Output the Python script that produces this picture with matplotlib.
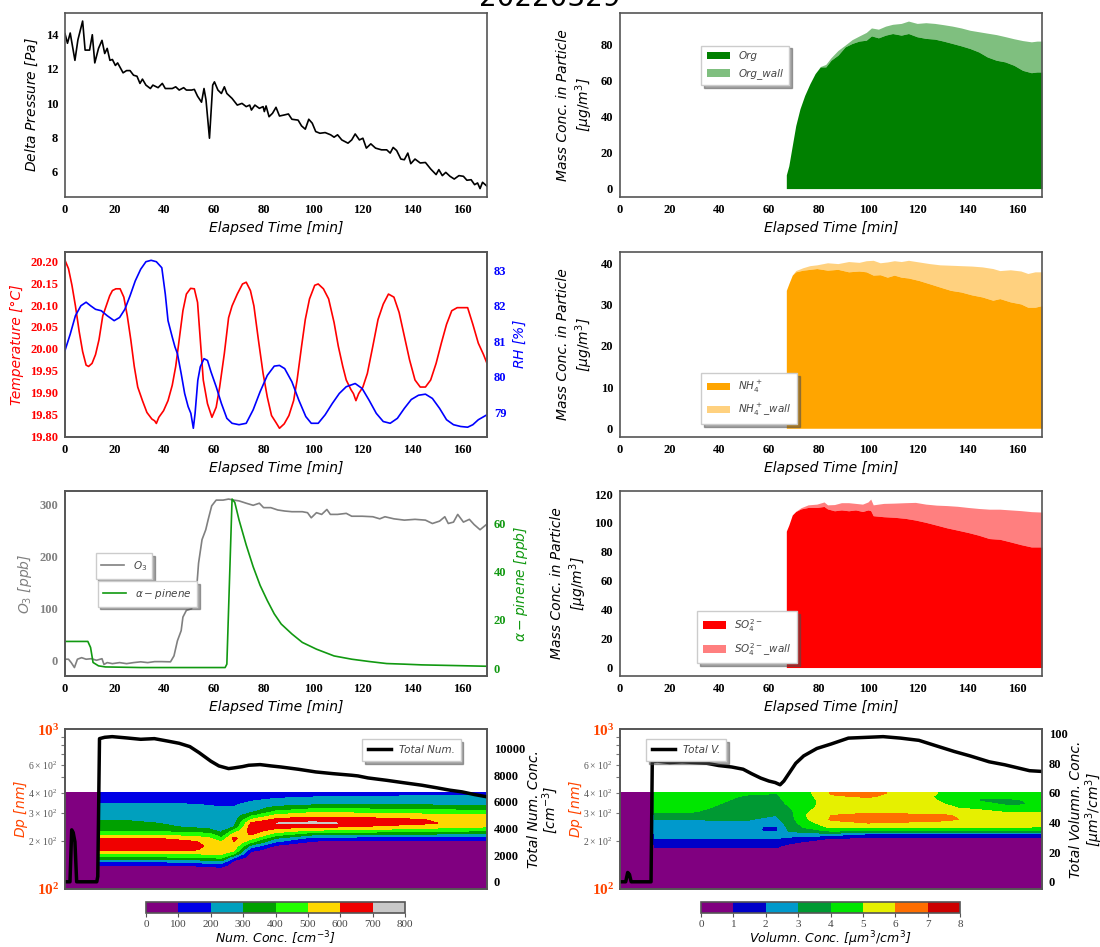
import numpy as np
import matplotlib
matplotlib.use('Agg')
import matplotlib.pyplot as plt
from matplotlib.colors import ListedColormap, BoundaryNorm
from matplotlib.ticker import FormatStrFormatter

plt.rcParams['font.family'] = 'Liberation Serif'
plt.rcParams['axes.edgecolor'] = '#555555'
plt.rcParams['axes.linewidth'] = 1.2

# ---- delta pressure ----
dp_t = [0, 1, 2.1, 4, 5.2, 7.1, 8.1, 9.9, 11, 12, 13.5, 14.9, 16, 17, 18.1, 19.1, 20.3, 21.2, 23.4, 24.8,
        26.2, 27.6, 29, 30.2, 31.2, 32.6, 34.4, 35.4, 37.5, 39.2, 40.4, 43.2, 44.6, 46, 47.8, 48.9, 51, 52.1,
        53.4, 55, 56, 56.8, 58.2, 59.5, 60.2, 61.6, 63, 64.2, 65.2, 67.3, 69.4, 71.3, 73, 74.4, 75.1, 76.5,
        78.3, 79.8, 80.3, 81, 82.2, 83.6, 85, 86.4, 88.3, 90, 91.4, 93.9, 95.3, 96.8, 98.2, 99.6, 101, 102.7,
        104.8, 107, 108.4, 109.8, 111.5, 114, 115.5, 116.9, 118.6, 120, 121.4, 123.2, 125.1, 127.5, 129.6,
        131, 132.2, 133.6, 135.3, 136.7, 138.1, 139.3, 141, 143.1, 145.2, 147.3, 149.5, 150.6, 152, 153.4,
        155.1, 156.8, 158.7, 160.5, 161.9, 163.6, 165, 166.2, 167.2, 168.2, 170]
dp_pa = [14.06, 13.5, 14.1, 12.5, 13.7, 14.8, 13.1, 13.1, 14.0, 12.35, 13.2, 13.67, 12.9, 13.2, 12.5, 12.55,
         12.2, 12.35, 11.77, 11.9, 11.9, 11.63, 11.57, 11.15, 11.4, 11.05, 10.85, 11.05, 10.9, 11.15, 10.85,
         10.85, 10.95, 10.76, 10.9, 10.76, 10.76, 10.8, 10.4, 10.05, 10.85, 10.18, 7.94, 11.05, 11.24, 10.76,
         10.56, 10.95, 10.56, 10.27, 9.88, 9.98, 9.79, 9.88, 9.59, 9.88, 9.69, 9.79, 9.5, 9.83, 9.2, 9.4,
         9.75, 9.24, 9.3, 9.36, 9.05, 9.0, 8.66, 8.47, 9.05, 8.82, 8.33, 8.23, 8.27, 8.14, 8.0, 8.14, 7.84,
         7.65, 7.84, 8.19, 7.84, 7.94, 7.36, 7.61, 7.36, 7.26, 7.26, 7.07, 7.4, 7.22, 6.72, 6.68, 7.07, 6.45,
         6.72, 6.49, 6.52, 6.14, 5.81, 6.1, 5.75, 5.94, 5.71, 5.55, 5.75, 5.71, 5.48, 5.51, 5.22, 5.32, 4.99,
         5.36, 5.13]

# ---- temperature / RH ----
temp_t = [0, 1.4, 2.8, 4.2, 5.7, 7.1, 8.5, 9.5, 10.9, 12.3, 13.7, 15.2, 16.6, 18, 19.1, 20.5, 22.2, 23.7,
          25.1, 26.5, 27.9, 29.3, 31.2, 33, 35, 36.1, 36.8, 37.8, 39.7, 41.5, 43.2, 44.6, 46, 47.5, 48.9,
          50.6, 52.1, 53.4, 54.5, 55.7, 57.4, 59.2, 60.9, 62.3, 64.2, 65.9, 67.3, 69.4, 71.5, 73, 74.7, 76.1,
          77.9, 79.8, 81.5, 83.2, 85, 86.4, 88.3, 90.2, 92.1, 93.5, 95.3, 96.8, 98.5, 100.6, 102, 104.1,
          106.2, 108.4, 110.1, 111.9, 113.3, 115.2, 116.2, 117.2, 118.3, 120, 121.8, 124, 126.1, 128.2,
          130.3, 132.5, 134.6, 136.7, 138.8, 141, 143.1, 145.2, 147.3, 149.5, 151.6, 153.7, 155.8, 158,
          160.1, 162.2, 164.3, 166.5, 168.6, 170]
temp_c = [20.202, 20.183, 20.145, 20.098, 20.04, 19.994, 19.963, 19.96, 19.967, 19.987, 20.021, 20.075,
          20.098, 20.121, 20.133, 20.137, 20.137, 20.118, 20.075, 20.021, 19.96, 19.913, 19.882, 19.855,
          19.84, 19.836, 19.83, 19.844, 19.859, 19.882, 19.917, 19.96, 20.021, 20.087, 20.125, 20.138,
          20.137, 20.106, 20.021, 19.929, 19.875, 19.844, 19.867, 19.913, 19.99, 20.071, 20.098, 20.125,
          20.148, 20.152, 20.133, 20.098, 20.021, 19.944, 19.89, 19.848, 19.832, 19.819, 19.829, 19.848,
          19.882, 19.929, 20.006, 20.067, 20.114, 20.145, 20.148, 20.137, 20.114, 20.06, 20.006, 19.96,
          19.929, 19.907, 19.898, 19.882, 19.898, 19.913, 19.944, 20.006, 20.067, 20.102, 20.125, 20.118,
          20.083, 20.029, 19.975, 19.929, 19.913, 19.913, 19.929, 19.967, 20.013, 20.056, 20.087, 20.094,
          20.094, 20.094, 20.056, 20.013, 19.987, 19.967]
rh_t = [0, 2.1, 4.2, 6.4, 8.5, 10.3, 12.3, 14.6, 17, 19.8, 22, 24.1, 26.2, 28.3, 30.5, 32.6, 34.7, 36.8,
        39, 40.4, 41.5, 43.2, 44.3, 45.3, 46.8, 48.2, 49.6, 50.7, 51.7, 52.4, 53.5, 54.5, 56, 57.4, 58.8,
        60.9, 63, 65.2, 67.3, 70.1, 73, 75.8, 78.6, 81.5, 84.3, 86.4, 88.5, 91.4, 94.2, 97, 99.2, 102,
        104.8, 107.7, 110.5, 113.3, 116.9, 119.7, 122.5, 125.4, 128.2, 131, 133.9, 136.7, 139.5, 142.4,
        145.2, 148, 150.9, 153.7, 156.5, 159.4, 162.2, 164.3, 166.5, 170]
rh_pct = [80.74, 81.2, 81.72, 82.0, 82.1, 82.0, 81.9, 81.86, 81.72, 81.58, 81.67, 81.9, 82.28, 82.7, 83.03,
          83.24, 83.28, 83.24, 83.07, 82.33, 81.58, 81.12, 80.84, 80.65, 80.09, 79.53, 79.16, 78.97, 78.55,
          78.97, 79.9, 80.28, 80.51, 80.46, 80.14, 79.72, 79.25, 78.83, 78.69, 78.65, 78.69, 79.07, 79.58,
          80.04, 80.3, 80.32, 80.23, 79.86, 79.34, 78.88, 78.69, 78.69, 78.93, 79.25, 79.53, 79.72, 79.81,
          79.67, 79.34, 78.97, 78.74, 78.69, 78.83, 79.11, 79.36, 79.48, 79.51, 79.39, 79.11, 78.79, 78.65,
          78.6, 78.58, 78.65, 78.79, 78.93]

# ---- O3 / alpha-pinene ----
o3_t = [0, 1.4, 2.5, 3.8, 5, 6.7, 8.5, 10.6, 12.7, 14.9, 15.7, 17, 19.1, 22, 24.8, 27.6, 30.5, 33.3, 36.1,
        39, 42.5, 43.9, 45.3, 46.8, 47.5, 48.9, 51, 51.7, 53.1, 53.8, 55.2, 56.7, 57.7, 59.1, 60.9, 63.7,
        65.9, 68, 70.1, 73, 75.8, 78.3, 80, 82.9, 85.7, 88.5, 91.4, 95.6, 97.7, 99.2, 101.3, 103.4, 105.5,
        106.9, 109.8, 113.3, 115.5, 119.7, 124, 126.8, 128.9, 132.5, 136.7, 141, 145.2, 148, 150.9, 153,
        154.4, 156.5, 158.2, 160.5, 162.9, 164.8, 167.2, 170]
o3_ppb = [2, 2, -4.5, -14, 2, 5, 2, 3, 0, 3, -8, -4.5, -6.5, -4.5, -6.5, -4.5, -3, -4.5, -2.6, -2.6, -3,
          8.4, 37.6, 57, 83, 96, 99, 141, 142.5, 186.6, 232, 251, 271, 297, 308, 308, 310, 308, 306.5, 302,
          298, 302, 293.5, 293.5, 289, 287, 285.7, 285.7, 283.8, 274, 283.8, 280.5, 290, 280.5, 280.5,
          282.5, 277, 277, 276, 272, 276, 272, 269.5, 271, 269.5, 263, 267.6, 276, 263, 265.7, 280.5, 265.7,
          271, 261, 251, 262]
ap_t = [0, 9.2, 10.3, 11.3, 13.5, 16.3, 30.5, 44.6, 64.5, 65.2, 67.3, 68.4, 70.1, 73, 75.8, 78.6, 81.5,
        84.3, 87.1, 91.4, 95.6, 101.3, 108.4, 115.5, 122.5, 129.6, 136.7, 143.8, 158, 170]
ap_ppb = [11.1, 11.1, 8.6, 2.4, 1.0, 0.55, 0.3, 0.3, 0.3, 1.7, 70, 68.6, 61.4, 51, 42, 34.3, 28, 22.5,
          18.3, 14.2, 10.7, 7.9, 5.1, 3.75, 2.8, 1.95, 1.7, 1.4, 1.1, 0.83]

# ---- aerosol mass (particle, and particle + wall) ----
org_t = [67, 68, 69.4, 70.8, 72.5, 74.4, 76.5, 78.6, 80.7, 82.9, 85, 87.8, 90.7, 93.5, 96.3, 99.2, 101.3,
         104.1, 107, 109.8, 113.3, 116.2, 119.7, 123.2, 126.8, 130.3, 133.9, 137.4, 141, 144.5, 148, 151.6,
         155.1, 158.7, 162.2, 165.7, 168, 170]
org = [7.6, 12.6, 23.8, 34.9, 44.2, 51.6, 58.1, 63.7, 67.4, 67.4, 71.1, 73.9, 78.5, 80.4, 81.7, 82.2, 84.6,
       83.5, 85, 85.9, 85, 85.9, 84.1, 83.2, 82.8, 81.7, 80.4, 79.1, 77.6, 75.7, 72.9, 71.1, 70.2, 68.3,
       65.5, 64.2, 64.6, 64.6]
org_wall = [7.6, 12.6, 23.8, 34.9, 44.2, 51.6, 58.1, 63.7, 67.6, 68.8, 72.5, 76.5, 79.5, 82.5, 84.5, 86.5,
            89.0, 88.3, 90, 91, 91.5, 92.8, 91.5, 91.9, 91.5, 90.8, 90, 89, 87.7, 86.9, 86.1, 85.3, 84.2, 83,
            82, 81.3, 81.7, 81.7]

nh4_t = [67, 68, 69.4, 70.8, 73.7, 76.5, 79.3, 83.6, 87.8, 92.1, 96.3, 99.2, 102, 104.8, 107.7, 110.5,
         113.3, 116.2, 120.4, 124.7, 128.9, 133.2, 137.4, 141.7, 145.9, 150.2, 153, 157.25, 161.5, 164.3,
         167.2, 170]
nh4 = [33.5, 35.1, 37.2, 38, 38.4, 38.6, 38.8, 38.4, 38.6, 38, 38.2, 38, 37.2, 37.3, 36.7, 37.2, 36.7,
       36.5, 35.9, 35.1, 34.3, 33.5, 33.1, 32.4, 31.9, 31.1, 31.5, 30.7, 30.2, 29.4, 29.4, 29.8]
nh4_wall = [33.5, 35.1, 37.2, 38.3, 39, 39.5, 39.7, 40.2, 40, 40.5, 40.3, 40.7, 40.8, 40.2, 40.4, 40.7,
            40.5, 40.8, 40.4, 40, 39.7, 39.6, 39.5, 39.4, 39.2, 38.8, 38.3, 38.5, 38.2, 37.6, 38, 38]

so4_t = [67, 68, 69.4, 70.8, 72.9, 75.8, 79.3, 82.2, 83.6, 86.4, 89.2, 92.1, 94.9, 97.7, 99.9, 101, 102,
         106.2, 110.5, 114.8, 119, 123.2, 127.5, 131.7, 136, 140.2, 144.5, 148.75, 153, 157.25, 161.5,
         165.7, 170]
so4 = [94.3, 98.5, 105.5, 107.9, 109.7, 110.7, 110.7, 111.4, 109.7, 108.4, 109, 108.4, 109, 107.9, 109,
       108.5, 105, 104.3, 103.9, 103.2, 102, 100.4, 98.5, 96.6, 95, 93.4, 91.5, 89.2, 88.7, 86.9, 85, 83.4,
       83.4]
so4_wall = [94.3, 98.5, 105.5, 108, 110.5, 112.5, 113, 114.5, 112.5, 112.7, 114, 114, 113.5, 113, 114.5,
            116.5, 112.5, 113.5, 113.7, 114, 114.2, 113, 112.3, 112, 111.5, 110.7, 110, 109.5, 109.5, 109,
            108.5, 107.8, 107.5]

# ---- size distributions (time nodes x diameter nodes) ----
psd_t = [0, 13.2, 13.8, 25, 40, 52, 58, 63, 68, 75, 85, 100, 115, 130, 145, 158, 170]
psd_dp = [100, 135, 142, 150, 158, 167, 176, 186, 197, 208, 220, 232, 245, 259, 273, 289, 305, 322, 340,
          360, 380, 400]
num_conc = [
    [0] * 22,
    [0] * 22,
    [0, 40, 120, 230, 390, 500, 610, 660, 655, 590, 480, 380, 330, 320, 290, 260, 240, 220, 205, 180, 150, 120],
    [0, 40, 120, 230, 390, 500, 610, 665, 655, 595, 480, 380, 330, 320, 290, 260, 240, 220, 205, 180, 150, 120],
    [0, 40, 120, 230, 390, 500, 610, 655, 650, 590, 470, 370, 310, 295, 280, 260, 240, 220, 205, 180, 150, 120],
    [0, 40, 130, 250, 400, 510, 610, 640, 615, 540, 450, 330, 290, 270, 260, 250, 230, 215, 200, 175, 150, 120],
    [0, 60, 160, 280, 420, 520, 570, 580, 560, 510, 440, 320, 280, 260, 250, 240, 225, 210, 195, 170, 140, 110],
    [0, 70, 170, 300, 430, 520, 560, 550, 500, 420, 320, 280, 265, 255, 245, 235, 220, 205, 185, 165, 140, 110],
    [0, 20, 40, 90, 220, 430, 530, 570, 600, 620, 540, 420, 300, 265, 250, 240, 230, 210, 185, 165, 140, 110],
    [0, 0, 0, 10, 30, 60, 130, 260, 420, 530, 610, 650, 660, 610, 500, 380, 280, 250, 230, 190, 150, 110],
    [0, 0, 0, 0, 10, 30, 50, 80, 200, 300, 450, 550, 640, 700, 620, 520, 420, 330, 260, 220, 180, 140],
    [0, 0, 0, 0, 0, 10, 30, 50, 80, 160, 320, 480, 610, 720, 660, 560, 480, 380, 280, 230, 195, 150],
    [0, 0, 0, 0, 0, 10, 30, 50, 70, 150, 310, 470, 600, 690, 650, 560, 470, 380, 290, 235, 200, 160],
    [0, 0, 0, 0, 0, 10, 30, 50, 70, 150, 300, 450, 570, 650, 620, 540, 460, 370, 290, 240, 205, 165],
    [0, 0, 0, 0, 0, 10, 30, 50, 70, 150, 290, 430, 540, 620, 600, 530, 450, 360, 285, 240, 205, 170],
    [0, 0, 0, 0, 0, 10, 30, 50, 70, 140, 280, 420, 520, 570, 570, 520, 440, 350, 280, 240, 210, 180],
    [0, 0, 0, 0, 0, 10, 30, 50, 70, 140, 270, 400, 500, 560, 560, 510, 430, 340, 270, 230, 200, 180],
]
vol_conc = [
    [0] * 22,
    [0] * 22,
    [0, .1, .2, .3, .5, .7, .9, 1.1, 1.6, 2.1, 2.4, 2.6, 2.7, 2.8, 2.95, 3.5, 4.1, 4.4, 4.5, 4.6, 4.5, 4.4],
    [0, .1, .2, .3, .5, .7, .9, 1.1, 1.6, 2.1, 2.4, 2.6, 2.7, 2.8, 2.95, 3.6, 4.2, 4.3, 4.3, 4.4, 4.4, 4.3],
    [0, .1, .2, .3, .5, .7, .9, 1.1, 1.7, 2.05, 2.4, 2.6, 2.7, 2.85, 3.1, 3.4, 3.7, 3.9, 4.0, 4.1, 4.2, 4.2],
    [0, .1, .2, .3, .5, .7, .9, 1.1, 1.7, 2.05, 2.4, 2.6, 2.7, 2.85, 3.05, 3.3, 3.5, 3.7, 3.8, 3.8, 3.9, 4.1],
    [0, .1, .2, .3, .5, .7, .9, 1.1, 1.7, 2.05, 2.2, 1.9, 1.9, 2.4, 2.8, 3.2, 3.4, 3.6, 3.7, 3.8, 3.9, 4.1],
    [0, .1, .2, .3, .5, .7, .9, 1.1, 1.7, 2.05, 2.2, 1.9, 1.9, 2.5, 2.8, 3.0, 3.3, 3.5, 3.7, 3.8, 3.9, 4.0],
    [0, .05, .1, .2, .3, .45, .6, .8, 1.2, 1.8, 2.5, 3.1, 3.3, 3.4, 3.5, 3.6, 3.7, 3.9, 4.1, 4.2, 4.3, 4.4],
    [0, 0, 0, .05, .1, .2, .35, .6, .9, 1.5, 2.6, 3.5, 4.2, 4.6, 4.9, 5.0, 4.9, 4.8, 4.7, 4.6, 4.6, 4.7],
    [0, 0, 0, 0, .05, .1, .2, .4, .7, 1.0, 2.5, 4.2, 5.2, 5.7, 6.1, 6.0, 5.6, 5.4, 5.4, 5.6, 5.9, 6.1],
    [0, 0, 0, 0, .05, .1, .2, .35, .6, .9, 1.7, 4.0, 5.4, 6.0, 6.4, 6.3, 5.8, 5.6, 5.5, 5.7, 6.1, 6.3],
    [0, 0, 0, 0, .05, .1, .2, .35, .6, .9, 1.7, 4.0, 5.3, 5.9, 6.3, 6.2, 5.7, 5.5, 5.4, 5.5, 5.6, 5.7],
    [0, 0, 0, 0, .05, .1, .2, .35, .6, .9, 1.7, 4.0, 5.3, 5.8, 6.15, 6.1, 5.6, 5.2, 5.05, 4.9, 4.8, 4.9],
    [0, 0, 0, 0, .05, .1, .2, .35, .6, .9, 1.7, 3.9, 5.2, 5.6, 5.8, 5.7, 5.3, 4.7, 4.3, 3.9, 4.2, 4.5],
    [0, 0, 0, 0, .05, .1, .2, .35, .6, .9, 1.7, 3.9, 5.1, 5.5, 5.6, 5.4, 4.8, 4.2, 3.8, 3.9, 4.2, 4.4],
    [0, 0, 0, 0, .05, .1, .2, .35, .6, .9, 1.7, 3.8, 5.0, 5.4, 5.5, 5.3, 4.9, 4.5, 4.2, 4.2, 4.3, 4.4],
]

totnum_t = [0, 2.0, 2.7, 3.3, 4.0, 4.7, 12.8, 13.2, 13.9, 16, 19, 25, 30.5, 36, 41.8, 46, 50.3, 54, 58.8,
            62, 65.9, 68, 71.5, 74, 78.6, 83, 87, 94, 101, 108, 115.5, 118, 122, 129.6, 136, 143.8, 150,
            155, 160, 165, 170]
totnum = [0, 0, 3900, 3700, 3000, 0, 0, 400, 10750, 10850, 10900, 10800, 10700, 10750, 10550, 10400,
          10150, 9700, 9050, 8700, 8500, 8550, 8650, 8750, 8800, 8700, 8620, 8450, 8250, 8120, 8000, 7950,
          7800, 7620, 7450, 7250, 7050, 6880, 6750, 6550, 6380]
totvol_t = [0, 2.3, 3.1, 3.8, 4.5, 12.5, 13.0, 15, 20, 25, 30, 35, 39.7, 45, 49.6, 53, 56.7, 60, 62.5,
            64.5, 66, 68, 70.8, 74, 79.3, 85, 92, 99, 106, 113, 120.4, 127, 134.6, 141, 148.75, 155, 160,
            165, 170]
totvol = [0, 0, 6.3, 5, 0, 0, 81, 81.5, 80.5, 81, 80.5, 80, 78.5, 77.5, 76, 73, 70, 68, 67, 65.5, 68, 73,
          80, 85, 90, 93, 97, 97.5, 98, 97, 95.5, 92, 88, 85, 81, 79, 77, 75, 74.5]

num_colors = ['#800080', '#0000e6', '#00a0be', '#00a000', '#22ff00', '#ffd700', '#f00000', '#c8c8c8']
vol_colors = ['#800080', '#0000c8', '#0099cc', '#009933', '#00e600', '#e6f000', '#ff6e00', '#cc0000']

LAB = dict(family='DejaVu Sans', style='italic', weight='normal', size=10)
LEG = dict(family='DejaVu Sans', style='italic', weight='normal', size=7.5)
TICK = 9

fig = plt.figure(figsize=(11, 9.47), dpi=100)
W = 422 / 1100
XL, XR = 65 / 1100, 620 / 1100
rows = [(0.792, 0.1946), (0.5389, 0.1951), (0.2862, 0.1957)]
bold_axes = []


def base(ax):
    ax.set_xlim(0, 170)
    ax.set_xticks(np.arange(0, 161, 20))
    ax.tick_params(length=0, labelsize=TICK, pad=5)
    ax.set_xlabel('Elapsed Time [min]', fontdict=LAB)
    bold_axes.append(ax)


def legend(ax, **kw):
    lg = ax.legend(prop=LEG, shadow=True, fancybox=False, framealpha=1, edgecolor='#cccccc',
                   borderpad=0.55, labelspacing=0.7, handlelength=2.2, **kw)
    for t in lg.get_texts():
        t.set_color('#444444')
    return lg


fig.text(0.5, 1 - 6 / 947, '20220329', ha='center', va='baseline', fontsize=20,
         family='DejaVu Sans', weight='normal')

# row 1 left: delta pressure
ax = fig.add_axes([XL, rows[0][0], W, rows[0][1]])
ax.plot(dp_t, dp_pa, color='black', lw=1.2)
base(ax)
ax.set_ylabel('Delta Pressure [$Pa$]', fontdict=LAB)

# row 2 left: temperature and RH
ax = fig.add_axes([XL, rows[1][0], W, rows[1][1]])
ax.plot(temp_t, temp_c, color='red', lw=1.2)
base(ax)
ax.set_yticks(np.arange(19.80, 20.201, 0.05))
ax.yaxis.set_major_formatter(FormatStrFormatter('%.2f'))
ax.tick_params(axis='y', labelcolor='red')
ax.set_ylabel('Temperature [°C]', fontdict=LAB, color='red')
axb = ax.twinx()
axb.plot(rh_t, rh_pct, color='blue', lw=1.2)
axb.set_xlim(0, 170)
axb.tick_params(length=0, labelsize=TICK, pad=5, labelcolor='blue')
axb.set_ylabel('$RH$ [%]', fontdict=LAB, color='blue')
bold_axes.append(axb)

# row 3 left: O3 and alpha-pinene
ax = fig.add_axes([XL, rows[2][0], W, rows[2][1]])
ax.plot(o3_t, o3_ppb, color='grey', lw=1.2, label='$O_3$')
base(ax)
ax.tick_params(axis='y', labelcolor='grey')
ax.set_ylabel('$O_3$ [$ppb$]', fontdict=LAB, color='grey')
legend(ax, loc='upper left', bbox_to_anchor=(0.06, 0.69))
axb = ax.twinx()
axb.plot(ap_t, ap_ppb, color='#119911', lw=1.2, label=r'$\alpha-pinene$')
axb.set_xlim(0, 170)
axb.tick_params(length=0, labelsize=TICK, pad=5, labelcolor='#119911')
axb.set_ylabel(r'$\alpha-pinene$ [$ppb$]', fontdict=LAB, color='#119911')
legend(axb, loc='upper left', bbox_to_anchor=(0.065, 0.54))
bold_axes.append(axb)

# right column: mass concentrations
mass = [(org_t, org, org_wall, 'green', ['Org', 'Org_wall'], dict(loc='upper left', bbox_to_anchor=(0.18, 0.85))),
        (nh4_t, nh4, nh4_wall, 'orange', ['$NH_4^+$', '$NH_4^+$_wall'], dict(loc='lower left', bbox_to_anchor=(0.18, 0.04))),
        (so4_t, so4, so4_wall, 'red', ['$SO_4^{2-}$', '$SO_4^{2-}$_wall'], dict(loc='lower left', bbox_to_anchor=(0.17, 0.04)))]
for (t, part, tot, col, labs, lkw), (b, h) in zip(mass, rows):
    ax = fig.add_axes([XR, b, W, h])
    ax.fill_between(t, 0, part, color=col, lw=0, label=labs[0])
    ax.fill_between(t, part, tot, color=col, alpha=0.5, lw=0, label=labs[1])
    base(ax)
    ax.set_ylabel('Mass Conc. in Particle\n[$\\mu g/m^3$]', fontdict=LAB)
    legend(ax, **lkw)

# bottom row: size distributions
H4 = 0.1686
B4 = 0.0612
panels = [(XL, num_conc, num_colors, np.arange(0, 801, 100), totnum_t, totnum, 'Total Num.',
           'Total Num. Conc.\n[$cm^{-3}$]', 'Num. Conc. [$cm^{-3}$]', 146,
           dict(loc='upper right', bbox_to_anchor=(0.95, 0.97))),
          (XR, vol_conc, vol_colors, np.arange(0, 9, 1), totvol_t, totvol, 'Total V.',
           'Total Volumn. Conc.\n[$\\mu m^3/cm^3$]', 'Volumn. Conc. [$\\mu m^3/cm^3$]', 701,
           dict(loc='upper left', bbox_to_anchor=(0.05, 0.97)))]
for x0, z, cols, lev, tt, tv, tlab, rlab, clab, cx, lkw in panels:
    ax = fig.add_axes([x0, B4, W, H4])
    cmap = ListedColormap(cols)
    norm = BoundaryNorm(lev, cmap.N)
    cf = ax.contourf(psd_t, psd_dp, np.array(z).T, levels=lev, cmap=cmap, norm=norm)
    ax.set_yscale('log')
    ax.set_ylim(100, 1000)
    ax.set_xlim(0, 170)
    ax.set_xticks([])
    ax.tick_params(axis='y', which='major', length=0, labelsize=11, labelcolor='orangered', pad=4)
    ax.tick_params(axis='y', which='minor', length=3, width=0.8, color='#777777', labelsize=7,
                   labelcolor='#555555', pad=3)
    ax.set_ylabel('Dp [$nm$]', fontdict=LAB, color='orangered', labelpad=-2)
    bold_axes.append(ax)
    axb = ax.twinx()
    axb.plot(tt, tv, color='black', lw=2.5, label=tlab)
    axb.set_xlim(0, 170)
    axb.tick_params(length=0, labelsize=TICK, pad=5)
    axb.set_ylabel(rlab, fontdict=LAB, labelpad=1, linespacing=1.0)
    bold_axes.append(axb)
    legend(axb, **lkw)
    cax = fig.add_axes([cx / 1100, 0.0358, 259 / 1100, 0.0116])
    cb = fig.colorbar(cf, cax=cax, orientation='horizontal')
    cb.set_ticks(lev)
    cb.outline.set_edgecolor('#555555')
    cax.tick_params(labelsize=8, labelcolor='#444444', length=3, color='#555555', pad=2)
    cb.set_label(clab, fontdict=dict(LAB, size=9), labelpad=0)

# bold serif tick labels (major only)
fig.canvas.draw()
for a in bold_axes:
    for lbl in a.get_xticklabels() + a.get_yticklabels():
        lbl.set_fontweight('bold')

fig.savefig('out.png', dpi=100)
